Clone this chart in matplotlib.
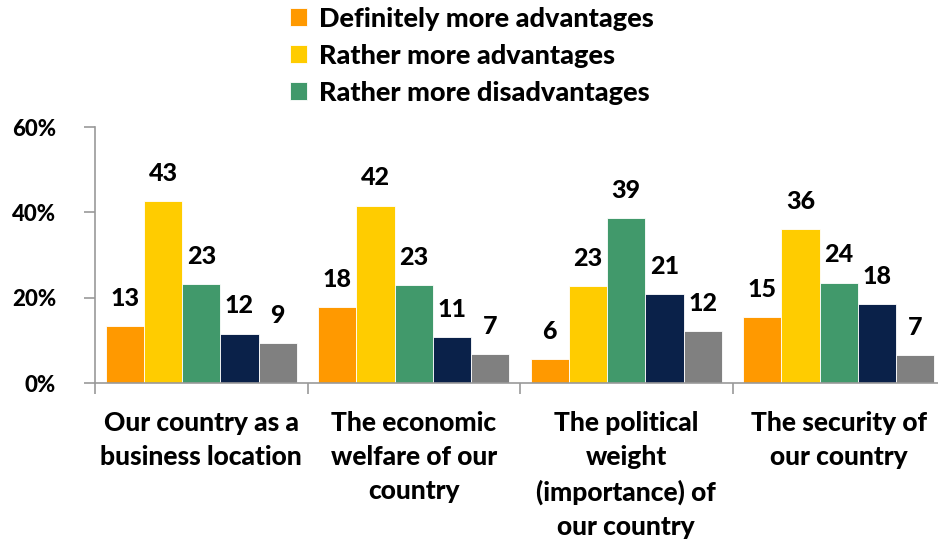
import matplotlib
matplotlib.use("Agg")
import matplotlib.pyplot as plt
import numpy as np

categories = ["Our country as a\nbusiness location",
              "The economic\nwelfare of our\ncountry",
              "The political\nweight\n(importance) of\nour country",
              "The security of\nour country"]
series_names = ["Definitely more advantages", "Rather more advantages",
                "Rather more disadvantages", "Rather more disadvantages (strong)",
                "Don't know"]
definitely_adv = [13.4, 17.7, 5.6, 15.4]
rather_adv = [42.7, 41.6, 22.7, 36.0]
rather_disadv = [23.1, 22.9, 38.7, 23.5]
definitely_disadv = [11.6, 10.7, 20.8, 18.4]
dont_know = [9.4, 6.7, 12.1, 6.5]
labels_def_adv = [13, 18, 6, 15]
labels_rat_adv = [43, 42, 23, 36]
labels_rat_dis = [23, 23, 39, 24]
labels_def_dis = [12, 11, 21, 18]
labels_dk = [9, 7, 12, 7]
yticks = [0, 20, 40, 60]

series = [definitely_adv, rather_adv, rather_disadv, definitely_disadv, dont_know]
labels = [labels_def_adv, labels_rat_adv, labels_rat_dis, labels_def_dis, labels_dk]
colors = ["#FF9900", "#FFCC00", "#41996B", "#0A2149", "#808080"]

plt.rcParams['font.family'] = ['Lato', 'DejaVu Sans']
WT = 900

W, H = 938, 542
fig = plt.figure(figsize=(W / 100, H / 100), dpi=100)
ax = fig.add_axes([95 / W, 1 - 383 / H, (945 - 95) / W, (383 - 127) / H])

x = np.arange(len(categories))
bw = 0.18
handles = []
for i, (vals, labs, col) in enumerate(zip(series, labels, colors)):
    bars = ax.bar(x + (i - 2) * bw, vals, width=bw, color=col,
                  edgecolor="white", linewidth=0.6, zorder=2)
    handles.append(bars)
    for b, lab in zip(bars, labs):
        ax.annotate(str(lab), (b.get_x() + b.get_width() / 2, b.get_height()),
                    xytext=(0, 20), textcoords="offset points",
                    ha="center", va="center", fontsize=18, fontweight=WT,
                    color="black")

ax.set_xlim(-0.5, 3.5)
ax.set_ylim(0, 60)
ax.set_yticks(yticks)
ax.set_yticklabels([f"{t}%" for t in yticks], fontsize=16, fontweight=WT)
ax.set_xticks(np.arange(-0.5, 4.0, 1.0))
ax.set_xticklabels([])
ax.set_xticks(x, minor=True)
ax.set_xticklabels(categories, minor=True, fontsize=19, fontweight=WT,
                   linespacing=1.5, va="top", ha="center")
ax.tick_params(axis="x", which="minor", length=0, pad=20)
ax.tick_params(axis="x", which="major", length=8, color="#999999", width=1.2)
ax.tick_params(axis="y", length=8, color="#999999", width=1.2, pad=20)
for s in ["top", "right"]:
    ax.spines[s].set_visible(False)
for s in ["left", "bottom"]:
    ax.spines[s].set_color("#999999")
    ax.spines[s].set_linewidth(1.2)

fig.legend(handles[:3], series_names[:3], loc="upper left",
           bbox_to_anchor=(287 / W, 1 - 4 / H), frameon=False,
           prop={"size": 19.5, "weight": WT},
           handlelength=0.62, handleheight=0.62, handletextpad=0.45,
           labelspacing=0.48, borderaxespad=0.0, borderpad=0.1)

fig.savefig("out.png", dpi=100)
